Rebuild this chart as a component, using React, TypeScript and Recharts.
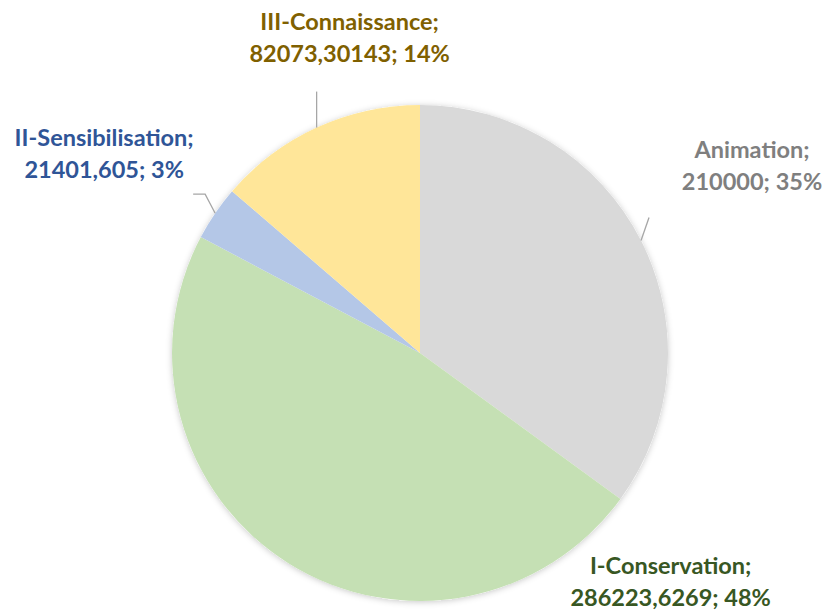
import React from "react";
import { PieChart, Pie, Cell } from "recharts";

const categories = ["Animation", "I-Conservation", "II-Sensibilisation", "III-Connaissance"];
const amounts = [210000, 286223.6269, 21401.605, 82073.30143];
const sliceColors = ["#D9D9D9", "#C5E0B4", "#B4C7E7", "#FFE699"];
const labelColors = ["#7F7F7F", "#385723", "#2F5597", "#7F6000"];

const data = categories.map((name, i) => ({ name, value: amounts[i] }));
const total = amounts.reduce((a, b) => a + b, 0);

// whole-number percents that add up to 100 (largest remainder, like Excel)
const roundedPercents = (() => {
  const raw = amounts.map((v) => (v / total) * 100);
  const out = raw.map(Math.floor);
  let left = 100 - out.reduce((a, b) => a + b, 0);
  const order = raw
    .map((r, i) => ({ i, rem: r - Math.floor(r) }))
    .sort((a, b) => b.rem - a.rem);
  for (let k = 0; k < left; k++) out[order[k].i] += 1;
  return out;
})();

// label placement relative to the slice's outer edge at its mid angle
const labelLayout: Record<string, { dx: number; dy: number; leader: number[][] }> = {
  Animation: { dx: 111, dy: -83, leader: [[8, -23]] },
  "I-Conservation": { dx: 382, dy: 11, leader: [] },
  "II-Sensibilisation": { dx: -111, dy: -67, leader: [[-10, -19], [-22, -19]] },
  "III-Connaissance": { dx: 33, dy: -98, leader: [[0, -36]] },
};

const RADIAN = Math.PI / 180;

const formatValue = (v: number) => String(v).replace(".", ",");

const renderLabel = (props: any) => {
  const { cx, cy, midAngle, outerRadius, name, value } = props;
  const index = categories.indexOf(name);
  const ex = cx + outerRadius * Math.cos(-midAngle * RADIAN);
  const ey = cy + outerRadius * Math.sin(-midAngle * RADIAN);
  const lay = labelLayout[name];
  const tx = ex + lay.dx;
  const ty = ey + lay.dy;
  return (
    <g key={`label-${name}`}>
      {lay.leader.length > 0 && (
        <polyline
          points={[[0, 0], ...lay.leader].map(([x, y]) => `${ex + x},${ey + y}`).join(" ")}
          fill="none"
          stroke="#A6A6A6"
          strokeWidth={1.3}
        />
      )}
      <text
        x={tx}
        y={ty}
        textAnchor="middle"
        fill={labelColors[index]}
        fontFamily="Lato, 'Open Sans', sans-serif"
        fontWeight={700}
        fontSize={23.5}
      >
        <tspan x={tx} dy={0}>{`${name};`}</tspan>
        <tspan x={tx} dy={32}>{`${formatValue(value)}; ${roundedPercents[index]}%`}</tspan>
      </text>
    </g>
  );
};

export default function App() {
  return (
    <div style={{ position: "absolute", left: 0, top: 0, width: 825, height: 610, background: "#fff" }}>
      <PieChart width={825} height={610} margin={{ top: 0, right: 0, bottom: 0, left: 0 }}>
        <defs>
          <filter id="pieShadow" x="-10%" y="-10%" width="120%" height="120%">
            <feDropShadow dx="0" dy="1" stdDeviation="3" floodColor="#000" floodOpacity="0.22" />
          </filter>
        </defs>
        <Pie
          data={[{ name: "total", value: total }]}
          dataKey="value"
          cx={420}
          cy={353}
          outerRadius={248}
          startAngle={90}
          endAngle={-270}
          stroke="none"
          isAnimationActive={false}
          label={false}
          labelLine={false}
        >
          <Cell fill="#FFFFFF" filter="url(#pieShadow)" />
        </Pie>
        <Pie
          data={data}
          dataKey="value"
          nameKey="name"
          cx={420}
          cy={353}
          outerRadius={248}
          startAngle={90}
          endAngle={-270}
          stroke="none"
          isAnimationActive={false}
          label={renderLabel}
          labelLine={false}
        >
          {data.map((d, i) => (
            <Cell key={d.name} fill={sliceColors[i]} />
          ))}
        </Pie>
      </PieChart>
    </div>
  );
}
